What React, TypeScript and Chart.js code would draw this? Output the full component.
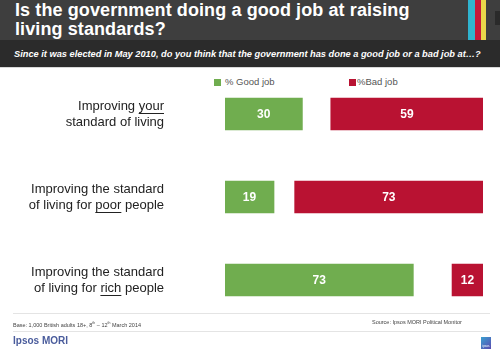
import React, { useEffect, useRef } from "react";
import { Chart, registerables } from "chart.js";

Chart.register(...registerables);

const categories = [
  "Improving {your}\nstandard of living",
  "Improving the standard\nof living for {poor} people",
  "Improving the standard\nof living for {rich} people",
];
const goodJob = [30, 19, 73];
const dontKnow = [11, 8, 15];
const badJob = [59, 73, 12];

const GREEN = "#70ad4f";
const RED = "#b91232";
const FONT = "'Liberation Sans', Arial, sans-serif";

const labelsPlugin = {
  id: "catLabels",
  afterDraw(chart: any) {
    const ctx = chart.ctx;
    const yScale = chart.scales.y;
    ctx.save();
    ctx.font = `13px ${FONT}`;
    ctx.fillStyle = "#222";
    ctx.strokeStyle = "#222";
    ctx.lineWidth = 1;
    ctx.textBaseline = "middle";
    ctx.textAlign = "left";
    const rightX = 164;
    categories.forEach((cat, i) => {
      const cy = yScale.getPixelForValue(i);
      const lines = cat.split("\n");
      const lh = 16;
      lines.forEach((line, li) => {
        const y = cy - ((lines.length - 1) * lh) / 2 + li * lh;
        const parts: { t: string; u: boolean }[] = [];
        const re = /\{([^}]*)\}|([^{]+)/g;
        let m;
        while ((m = re.exec(line))) {
          if (m[1] !== undefined) parts.push({ t: m[1], u: true });
          else parts.push({ t: m[2], u: false });
        }
        const total = parts.reduce((s, p) => s + ctx.measureText(p.t).width, 0);
        let x = rightX - total;
        parts.forEach((p) => {
          const w = ctx.measureText(p.t).width;
          ctx.fillText(p.t, x, y);
          if (p.u) {
            ctx.beginPath();
            ctx.moveTo(x, Math.round(y + 7) + 0.5);
            ctx.lineTo(x + w, Math.round(y + 7) + 0.5);
            ctx.stroke();
          }
          x += w;
        });
      });
    });
    // value labels
    ctx.font = `bold 12px ${FONT}`;
    ctx.fillStyle = "#ffffff";
    ctx.textAlign = "center";
    [0, 2].forEach((di) => {
      const meta = chart.getDatasetMeta(di);
      meta.data.forEach((bar: any, i: number) => {
        const { x, y, base } = bar.getProps(["x", "y", "base"], true);
        const val = chart.data.datasets[di].data[i];
        ctx.fillText(String(val), (x + base) / 2, y + 1);
      });
    });
    ctx.restore();
  },
};

export default function App() {
  const ref = useRef<HTMLCanvasElement>(null);
  useEffect(() => {
    const chart = new Chart(ref.current!, {
      type: "bar",
      data: {
        labels: categories.map((c) => c.replace(/[{}]/g, "")),
        datasets: [
          { label: "% Good job", data: goodJob, backgroundColor: GREEN },
          { label: "Don't know", data: dontKnow, backgroundColor: "rgba(0,0,0,0)" },
          { label: "%Bad job", data: badJob, backgroundColor: RED },
        ],
      },
      options: {
        indexAxis: "y",
        responsive: false,
        animation: false,
        devicePixelRatio: 1,
        datasets: { bar: { barThickness: 32 } },
        layout: { padding: { left: 225, right: 0, top: 72.5, bottom: 30.5 } },
        scales: {
          x: { stacked: true, min: 0, max: 100, display: false },
          y: { stacked: true, display: false },
        },
        plugins: { legend: { display: false }, tooltip: { enabled: false } },
      },
      plugins: [labelsPlugin],
    });
    return () => chart.destroy();
  }, []);

  const abs = (s: React.CSSProperties): React.CSSProperties => ({ position: "absolute", ...s });

  return (
    <div
      style={{
        position: "fixed",
        left: 0,
        top: 0,
        width: 500,
        height: 352,
        background: "#fff",
        overflow: "hidden",
        fontFamily: FONT,
      }}
    >
      {/* header */}
      <div style={abs({ left: 0, top: 0, width: 500, height: 40, background: "#3e3e3e" })} />
      <div style={abs({ left: 0, top: 40, width: 500, height: 27, background: "#2b2b2b" })} />
      <div style={abs({ left: 0, top: 67, width: 500, height: 1, background: "#d8d8d8" })} />
      <div style={abs({ left: 468, top: 0, width: 7, height: 40, background: "#2fb3cf" })} />
      <div style={abs({ left: 475, top: 0, width: 6, height: 40, background: "#c4163a" })} />
      <div style={abs({ left: 481, top: 0, width: 5, height: 40, background: "#e9d64a" })} />
      <div style={abs({ left: 495, top: 11, width: 5, height: 14, background: "#2a2a2a" })} />
      <div
        style={abs({
          left: 15,
          top: 1,
          width: 450,
          color: "#fff",
          fontWeight: "bold",
          fontSize: 18,
          lineHeight: "19px",
          letterSpacing: 0.1,
        })}
      >
        Is the government doing a good job at raising
        <br />
        living standards?
      </div>
      <div
        style={abs({
          left: 14,
          top: 47.5,
          color: "#fff",
          fontWeight: "bold",
          fontStyle: "italic",
          fontSize: 9.25,
          lineHeight: "12px",
          whiteSpace: "nowrap",
        })}
      >
        Since it was elected in May 2010, do you think that the government has done a good job or a bad job at…?
      </div>

      {/* legend */}
      <div style={abs({ left: 214, top: 79, width: 7, height: 7, background: GREEN })} />
      <div style={abs({ left: 225, top: 76, fontSize: 9.5, color: "#555", lineHeight: "12px" })}>% Good job</div>
      <div style={abs({ left: 349, top: 79, width: 7, height: 7, background: RED })} />
      <div style={abs({ left: 357, top: 76, fontSize: 9.5, color: "#555", lineHeight: "12px" })}>%Bad job</div>

      <canvas ref={ref} width={483} height={352} style={abs({ left: 0, top: 0, width: 483, height: 352 })} />

      {/* footer */}
      <div style={abs({ left: 13, top: 313, width: 477, height: 1, background: "#e4e4e4" })} />
      <div style={abs({ left: 13, top: 331, width: 477, height: 1, background: "#e4e4e4" })} />
      <div style={abs({ left: 13, top: 319, fontSize: 5.5, color: "#444", lineHeight: "8px", whiteSpace: "nowrap" })}>
        Base: 1,000 British adults 18+, 8<sup style={{ fontSize: 3.5 }}>th</sup> – 12<sup style={{ fontSize: 3.5 }}>th</sup> March 2014
      </div>
      <div style={abs({ left: 372, top: 318, fontSize: 5.5, color: "#444", lineHeight: "8px", whiteSpace: "nowrap" })}>
        Source: Ipsos MORI Political Monitor
      </div>
      <div style={abs({ left: 13, top: 334, fontSize: 10, color: "#4a5c9c", fontWeight: "bold", lineHeight: "13px" })}>
        Ipsos MORI
      </div>
      <div
        style={abs({
          left: 481,
          top: 337,
          width: 10,
          height: 12,
          background: "linear-gradient(135deg, #3aa0d0, #5a4ab0)",
          color: "#fff",
          fontSize: 3,
          lineHeight: "3px",
          textAlign: "center",
        })}
      >
        <div style={{ paddingTop: 8 }}>ipsos</div>
      </div>
    </div>
  );
}
